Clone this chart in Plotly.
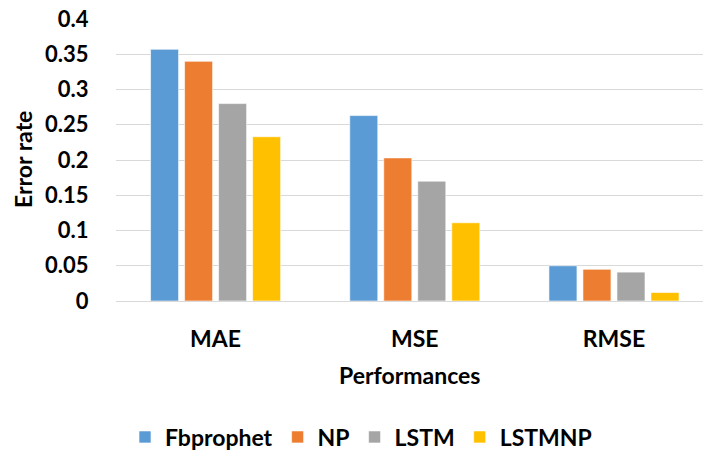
import plotly.graph_objects as go

categories = ["MAE", "MSE", "RMSE"]
series_names = ["Fbprophet", "NP", "LSTM", "LSTMNP"]
fbprophet = [0.357, 0.263, 0.050]
np_vals = [0.340, 0.203, 0.045]
lstm = [0.280, 0.170, 0.041]
lstmnp = [0.233, 0.111, 0.012]
y_ticks = [0, 0.05, 0.1, 0.15, 0.2, 0.25, 0.3, 0.35, 0.4]
y_tick_labels = ["0", "0.05", "0.1", "0.15", "0.2", "0.25", "0.3", "0.35", "0.4"]

colors = ["#5B9BD5", "#ED7D31", "#A5A5A5", "#FFC000"]
values = [fbprophet, np_vals, lstm, lstmnp]

FONT = "Lato, 'Open Sans', sans-serif"
SZ = 23

# plot area in pixels (for placing titles)
PL, PT, PW, PH = 116, 19, 587, 282

fig = go.Figure()
for name, vals, col in zip(series_names, values, colors):
    fig.add_trace(go.Bar(
        x=categories, y=vals, name=name,
        marker=dict(color=col, line=dict(color="rgba(255,255,255,0.6)", width=1)),
    ))

fig.update_layout(
    width=703, height=450,
    margin=dict(l=PL, r=703 - PL - PW, t=PT, b=450 - PT - PH, autoexpand=False),
    paper_bgcolor="white", plot_bgcolor="white",
    barmode="group", bargap=0.317, bargroupgap=0.176,
    font=dict(family=FONT, size=SZ, color="#000000"),
    showlegend=True,
    legend=dict(
        orientation="h", xref="container", x=361 / 703, xanchor="center",
        yref="container", y=1 - 437 / 450, yanchor="middle",
        font=dict(family=FONT, size=23, color="#000000", weight="bold"),
        itemwidth=30, traceorder="normal",
    ),
    annotations=[
        dict(text="Performances", xref="paper", yref="paper",
             x=0.5, y=(PT + PH - 375) / PH, xanchor="center", yanchor="middle",
             showarrow=False, font=dict(family=FONT, size=SZ, weight="bold")),
        dict(text="Error rate", xref="paper", yref="paper",
             x=(23 - PL) / PW, y=0.5, xanchor="center", yanchor="middle", textangle=-90,
             showarrow=False, font=dict(family=FONT, size=SZ, weight="bold")),
    ],
)
fig.update_xaxes(
    range=[-0.5, 2.447], automargin=False,
    showgrid=False, showline=False, zeroline=False,
    tickfont=dict(family=FONT, size=SZ, weight="bold"),
    ticks="outside", ticklen=17, tickcolor="rgba(0,0,0,0)",
)
fig.update_yaxes(
    range=[0, 0.4], tickvals=y_ticks, ticktext=y_tick_labels, automargin=False,
    showgrid=True, gridcolor="#D9D9D9", gridwidth=1,
    zeroline=True, zerolinecolor="#D9D9D9", zerolinewidth=1,
    showline=False,
    tickfont=dict(family=FONT, size=22, weight="bold"),
    ticks="outside", ticklen=22, tickcolor="rgba(0,0,0,0)",
)

fig.write_html("out.html", config={"displayModeBar": False},
               post_script="document.body.style.margin='0';document.body.style.overflow='hidden';")
